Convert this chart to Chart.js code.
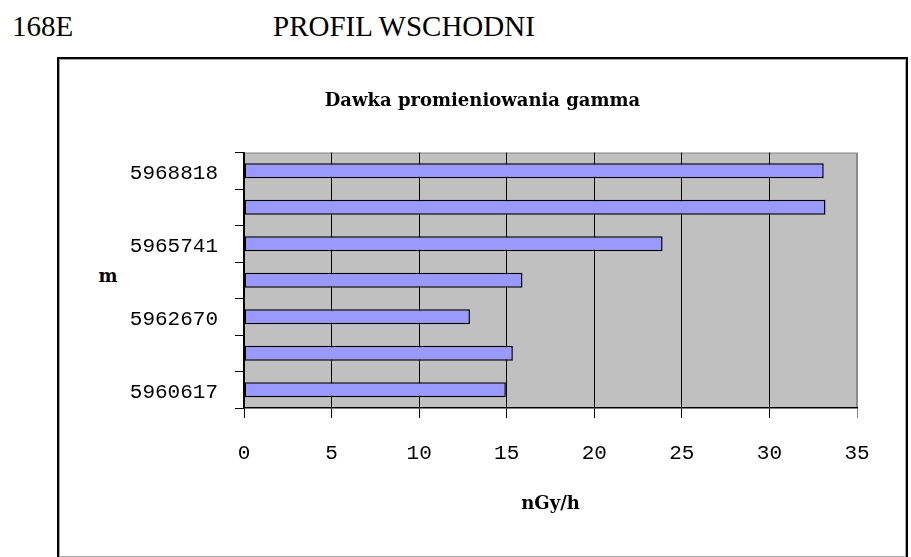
<!DOCTYPE html>
<html>
<head>
<meta charset="utf-8">
<script src="https://cdn.jsdelivr.net/npm/chart.js@4/dist/chart.umd.min.js"></script>
<style>
html,body{margin:0;padding:0;background:#fff;width:911px;height:557px;overflow:hidden;}
.hdr{position:absolute;font-family:"Liberation Serif",serif;font-size:29px;line-height:29px;color:#000;white-space:nowrap;}
#box{position:absolute;left:57px;top:57px;width:851px;height:502px;box-sizing:border-box;border:2px solid #000;box-shadow:inset 0 0 0 1px #a8a8a8;background:#fff;}
#ylab{position:absolute;left:88px;top:267px;width:40px;text-align:center;font-family:"DejaVu Serif",serif;font-weight:bold;font-size:18px;line-height:18px;color:#000;}
#c{position:absolute;left:0;top:0;}
</style>
</head>
<body>
<div class="hdr" style="left:12px;top:12px;">168E</div>
<div class="hdr" style="left:273px;top:12px;">PROFIL WSCHODNI</div>
<div id="box"></div>
<div id="ylab">m</div>
<canvas id="c" width="911" height="557"></canvas>
<script>
// categories (top to bottom); only every other label is shown in the source
const categories = ['5968818', '', '5965741', '', '5962670', '', '5960617'];
// gamma dose rate values, nGy/h
const doseValues = [33.1, 33.2, 23.9, 15.9, 12.9, 15.35, 14.95];
const xTicksMin = 0;
const xTicksMax = 35;
const xTickStep = 5;
const chartTitle = 'Dawka promieniowania gamma';
const xAxisTitle = 'nGy/h';

const plotBg = {
  id: 'plotBg',
  beforeDraw(chart) {
    const {ctx, chartArea: a} = chart;
    ctx.save();
    ctx.fillStyle = '#C0C0C0';
    ctx.fillRect(a.left, a.top, a.right - a.left, a.bottom - a.top);
    ctx.strokeStyle = '#8a8a8a';
    ctx.lineWidth = 1;
    ctx.strokeRect(a.left + 0.5, a.top + 0.5, a.right - a.left - 1, a.bottom - a.top - 1);
    ctx.restore();
  }
};

const tickFont = {family: 'Liberation Mono', size: 21};
const boldSerif = {family: 'DejaVu Serif', weight: 'bold', size: 18};

new Chart(document.getElementById('c'), {
  type: 'bar',
  data: {
    labels: categories,
    datasets: [{
      data: doseValues,
      backgroundColor: '#9999FF',
      borderColor: '#000000',
      borderWidth: 1.5,
      borderSkipped: false,
      barPercentage: 0.41,
      categoryPercentage: 1
    }]
  },
  options: {
    indexAxis: 'y',
    responsive: false,
    devicePixelRatio: 1,
    animation: false,
    layout: {padding: {left: 108, right: 54, top: 0, bottom: 0}},
    plugins: {
      legend: {display: false},
      tooltip: {enabled: false},
      title: {
        display: true,
        text: chartTitle,
        color: '#000',
        font: boldSerif,
        padding: {top: 91, bottom: 40}
      }
    },
    scales: {
      x: {
        min: xTicksMin,
        max: xTicksMax,
        ticks: {stepSize: xTickStep, padding: 23, color: '#000', font: tickFont},
        grid: {
          color: c => (c.tick && c.tick.value === xTicksMax) ? '#8a8a8a' : '#000',
          lineWidth: 1,
          tickLength: 10,
          drawOnChartArea: true
        },
        border: {color: '#000', width: 1.5},
        title: {display: true, text: xAxisTitle, color: '#000', font: boldSerif, padding: {top: 0, bottom: 42}},
        afterFit(s) { s.height = 149; }
      },
      y: {
        ticks: {padding: 17, color: '#000', font: tickFont, labelOffset: 3, autoSkip: false},
        grid: {drawOnChartArea: false, drawTicks: true, tickLength: 9, color: '#000', offset: true, lineWidth: 1},
        border: {color: '#000', width: 1.5},
        afterFit(s) { s.width = 244 - 108; }
      }
    }
  },
  plugins: [plotBg]
});
</script>
</body>
</html>
